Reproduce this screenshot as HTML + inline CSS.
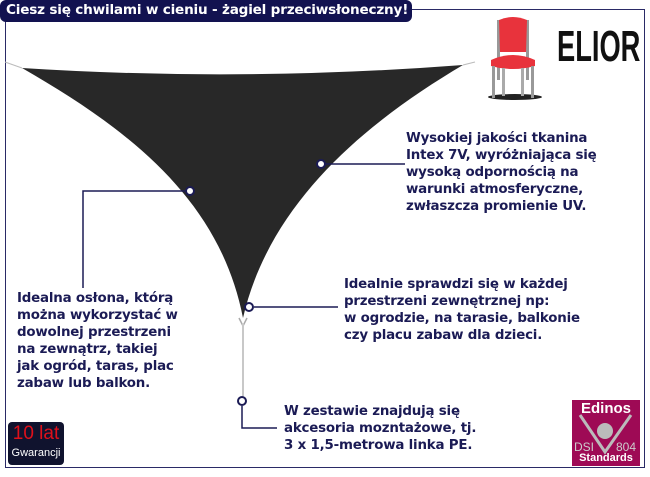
<!DOCTYPE html>
<html><head><meta charset="utf-8"><style>
body{margin:0;width:650px;height:477px;background:#fff;position:relative;overflow:hidden;font-family:"DejaVu Sans","Liberation Sans",sans-serif}
.t{position:absolute;color:#1b1b55;font-weight:bold;font-size:13.4px;line-height:17px;white-space:nowrap;letter-spacing:-0.2px}
</style></head><body>
<svg width="650" height="477" style="position:absolute;left:0;top:0">
<rect x="5.5" y="9.5" width="639" height="458" fill="none" stroke="#2a2a66" stroke-width="1"/>
<rect x="0" y="0" width="412" height="22" rx="6" fill="#121250"/>
<line x1="5" y1="62" x2="22" y2="68" stroke="#bbb"/>
<line x1="463" y1="65" x2="475" y2="62" stroke="#bbb"/>
<path d="M22,68 Q240,82 463,65 C370,120 270,200 243,318 C220,200 130,130 22,68 Z" fill="#282828"/>
<path d="M239,318 L243,326 L247,318" fill="none" stroke="#aaa" stroke-width="1.5"/>
<line x1="243" y1="324" x2="243" y2="396" stroke="#c8c8c8" stroke-width="2"/>
<g stroke="#1b1b55" stroke-width="1.5" fill="none">
<polyline points="185,191 83,191 83,288"/>
<line x1="326" y1="164" x2="405" y2="164"/>
<line x1="254" y1="307" x2="338" y2="307"/>
<polyline points="242,406 242,428 277,428"/>
</g>
<g fill="#fff" stroke="#1b1b55" stroke-width="2">
<circle cx="190" cy="191" r="4"/><circle cx="321" cy="164" r="4"/><circle cx="249" cy="307" r="4"/><circle cx="242" cy="401" r="4"/>
</g>
<ellipse cx="515" cy="97" rx="27" ry="3" fill="#222"/>
<rect x="497" y="20" width="3" height="60" fill="#999"/><rect x="526" y="20" width="3" height="60" fill="#999"/>
<path d="M499,20 Q513,14 527,20 L526,52 L500,52 Z" fill="#e8333c"/>
<path d="M491,60 Q513,50 535,60 L535,66 Q513,72 491,66 Z" fill="#e8333c"/>
<rect x="492" y="66" width="3" height="32" fill="#999"/><rect x="531" y="66" width="3" height="32" fill="#999"/>
<rect x="502" y="68" width="3" height="28" fill="#aaa"/><rect x="521" y="68" width="3" height="28" fill="#aaa"/>
<rect x="8" y="422" width="56" height="43" rx="4" fill="#10132e"/>
<rect x="572" y="400" width="68" height="66" fill="#9e0a55"/>
<path d="M580,415 L605,452 L631,415" stroke="#bbb" stroke-width="3" fill="none"/>
<circle cx="605" cy="431" r="8" fill="#bbb"/>
</svg>
<div style="position:absolute;left:6px;top:2px;color:#fff;font:bold 13.6px 'DejaVu Sans',sans-serif;letter-spacing:-0.2px">Ciesz się chwilami w cieniu - żagiel przeciwsłoneczny!</div>
<div style="position:absolute;left:557px;top:22px;font:bold 44px 'Liberation Sans Narrow','Liberation Sans',sans-serif;transform:scaleX(0.62);transform-origin:left;color:#111">ELIOR</div>
<div class="t" style="left:406px;top:130px">Wysokiej jakości tkanina<br>Intex 7V, wyróżniająca się<br>wysoką odpornością na<br>warunki atmosferyczne,<br>zwłaszcza promienie UV.</div>
<div class="t" style="left:344px;top:276px">Idealnie sprawdzi się w każdej<br>przestrzeni zewnętrznej np:<br>w ogrodzie, na tarasie, balkonie<br>czy placu zabaw dla dzieci.</div>
<div class="t" style="left:17px;top:290px">Idealna osłona, którą<br>można wykorzystać w<br>dowolnej przestrzeni<br>na zewnątrz, takiej<br>jak ogród, taras, plac<br>zabaw lub balkon.</div>
<div class="t" style="left:284px;top:403px">W zestawie znajdują się<br>akcesoria mozntażowe, tj.<br>3 x 1,5-metrowa linka PE.</div>
<div style="position:absolute;left:8px;top:423px;width:56px;text-align:center;color:#e0101a;font:19px 'Liberation Sans',sans-serif">10 lat</div>
<div style="position:absolute;left:8px;top:447px;width:56px;text-align:center;color:#fff;font:11px 'Liberation Sans',sans-serif">Gwarancji</div>
<div style="position:absolute;left:572px;top:400px;width:68px;text-align:center;color:#fff;font:bold 15px 'Liberation Sans',sans-serif">Edinos</div>
<div style="position:absolute;left:574px;top:440px;color:#ccc;font:12px 'Liberation Sans',sans-serif">DSI</div>
<div style="position:absolute;left:616px;top:440px;color:#ccc;font:12px 'Liberation Sans',sans-serif">804</div>
<div style="position:absolute;left:572px;top:452px;width:68px;text-align:center;color:#fff;font:bold 11px 'Liberation Sans',sans-serif">Standards</div>
</body></html>
